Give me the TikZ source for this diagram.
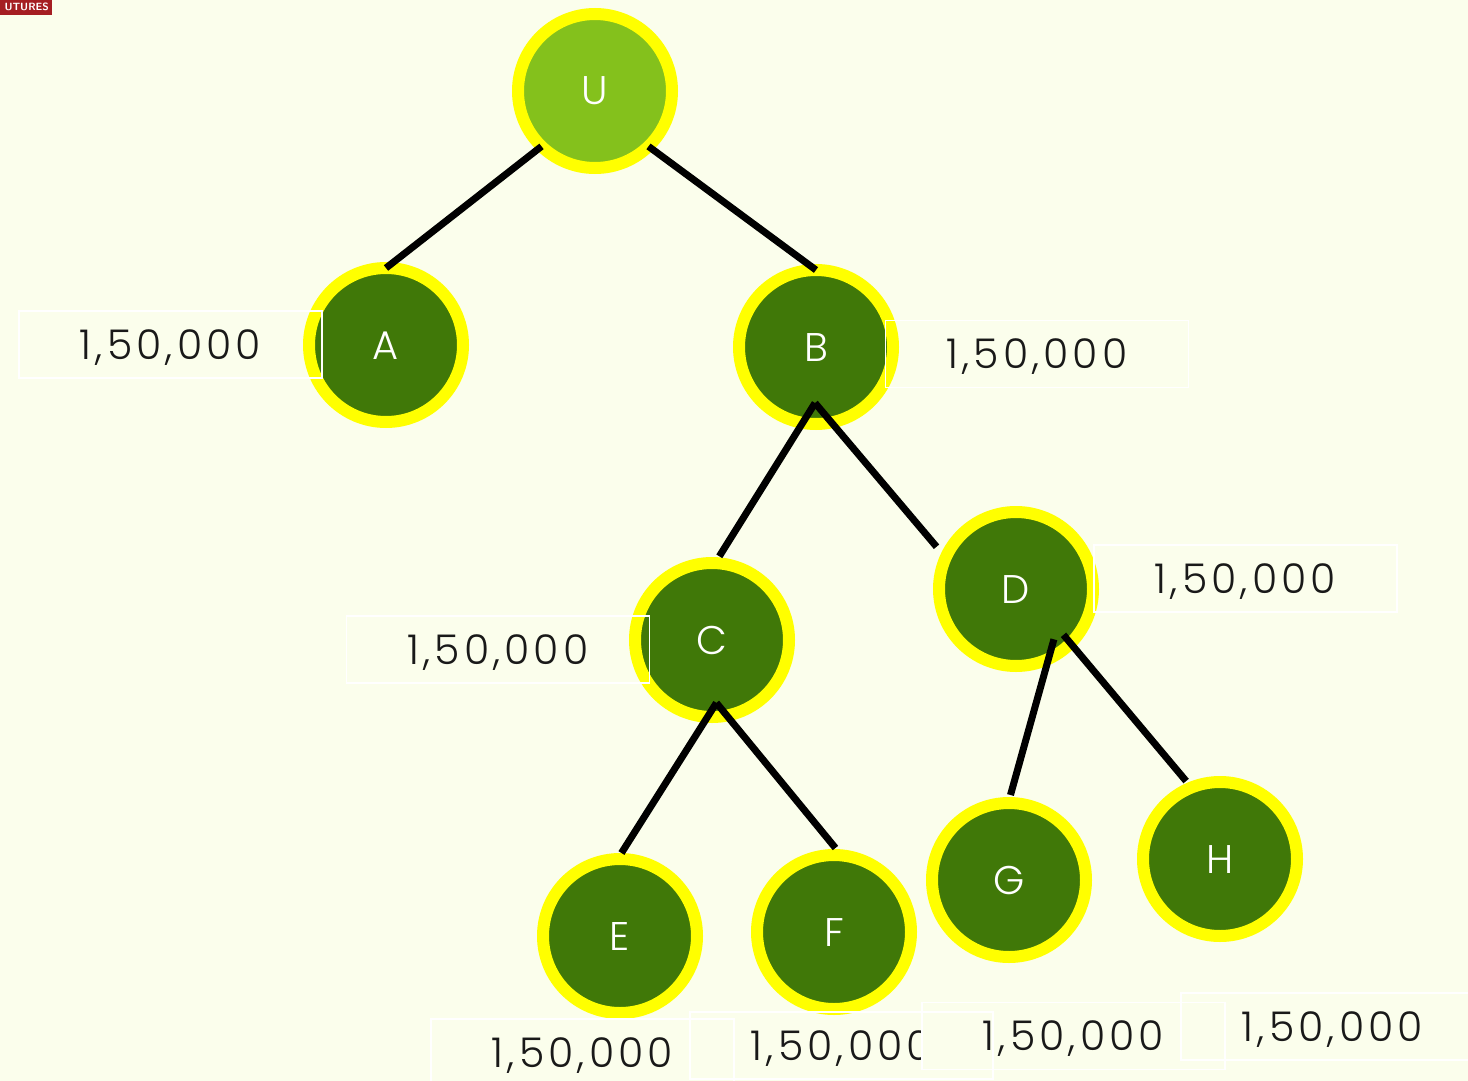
\documentclass[tikz,border=0pt]{standalone}
\usepackage{fontspec}
\setmainfont{Poppins Light}[Numbers=Monospaced, LetterSpace=10]
\definecolor{bgcream}{HTML}{FBFEEC}
\definecolor{leafgreen}{HTML}{407808}
\definecolor{rootgreen}{HTML}{84C11C}
\definecolor{ringyellow}{HTML}{FFFF00}
\definecolor{logored}{HTML}{A51E22}
\tikzset{
	vertex/.style={circle, draw=ringyellow, line width=12pt, fill=leafgreen,
		minimum size=154pt, inner sep=0pt, outer sep=0pt, text=white,
		font=\fontsize{40}{48}\selectfont, text height=28pt, text depth=0pt},
	amount/.style={rectangle, fill=bgcream, minimum width=303pt, minimum height=67pt,
		inner sep=0pt, text=black!90, font=\fontsize{41}{48}\selectfont,
		text height=29pt, text depth=0pt},
	edge/.style={line width=7pt, black}
}
\begin{document}
\begin{tikzpicture}[x=1pt, y=-1pt]
	\useasboundingbox (0, 0) rectangle (1468, 1081);
	\fill[bgcream] (0, 0) rectangle (1468, 1081);
	\fill[logored] (0, 0) rectangle (52, 15);
	\node[anchor=east, inner sep=0pt, text=white, font=\sffamily\bfseries\fontsize{10.5}{11}\selectfont] (logo) at (49, 7) {UTURES};
	% amounts
	\node[amount] (la) at (170.5, 344.5) {1,50,000};
	\node[amount] (lb) at (1037, 354) {1,50,000};
	\node[amount] (lc) at (498, 649.5) {1,50,000};
	\node[amount] (ld) at (1245.5, 578.5) {1,50,000};
	\node[amount] (le) at (582.5, 1052.5) {1,50,000};
	\node[amount] (lf) at (841.5, 1045.5) {1,50,000};
	\node[amount] (lg) at (1073.5, 1036) {1,50,000};
	\node[amount] (lh) at (1332.5, 1026.5) {1,50,000};
	% tree
	\node[vertex, fill=rootgreen] (U) at (595, 91) {U};
	\node[vertex] (A) at (386, 345) {A};
	\node[vertex] (B) at (816, 347) {B};
	\node[vertex] (C) at (712, 640) {C};
	\node[vertex] (D) at (1016, 589) {D};
	\node[vertex] (E) at (620, 936) {E};
	\node[vertex] (F) at (834, 932) {F};
	\node[vertex] (G) at (1009, 880) {G};
	\node[vertex] (H) at (1220, 859) {H};
	\draw[edge] (U.226) -- (A.90);
	\draw[edge] (U.314) -- (B.90);
	\draw[edge] ([shift={(-91:56pt)}]B.center) -- ([shift={(85:84pt)}]C.center);
	\draw[edge] ([shift={(-91:56pt)}]B.center) -- ([shift={(152:90pt)}]D.center);
	\draw[edge] ([shift={(-86:63pt)}]C.center) -- ([shift={(89:83pt)}]E.center);
	\draw[edge] ([shift={(-86:63pt)}]C.center) -- ([shift={(89:84pt)}]F.center);
	\draw[edge] ([shift={(-53:63pt)}]D.center) -- ([shift={(89:85pt)}]G.center);
	\draw[edge] ([shift={(-44:66pt)}]D.center) -- ([shift={(113.5:85pt)}]H.center);
	% box lines on top
	\foreach \n in {la, lb, lc, ld, le, lf, lg, lh}
		\draw[white, line width=1.5pt] (\n.south west) rectangle (\n.north east);
\end{tikzpicture}
\end{document}
